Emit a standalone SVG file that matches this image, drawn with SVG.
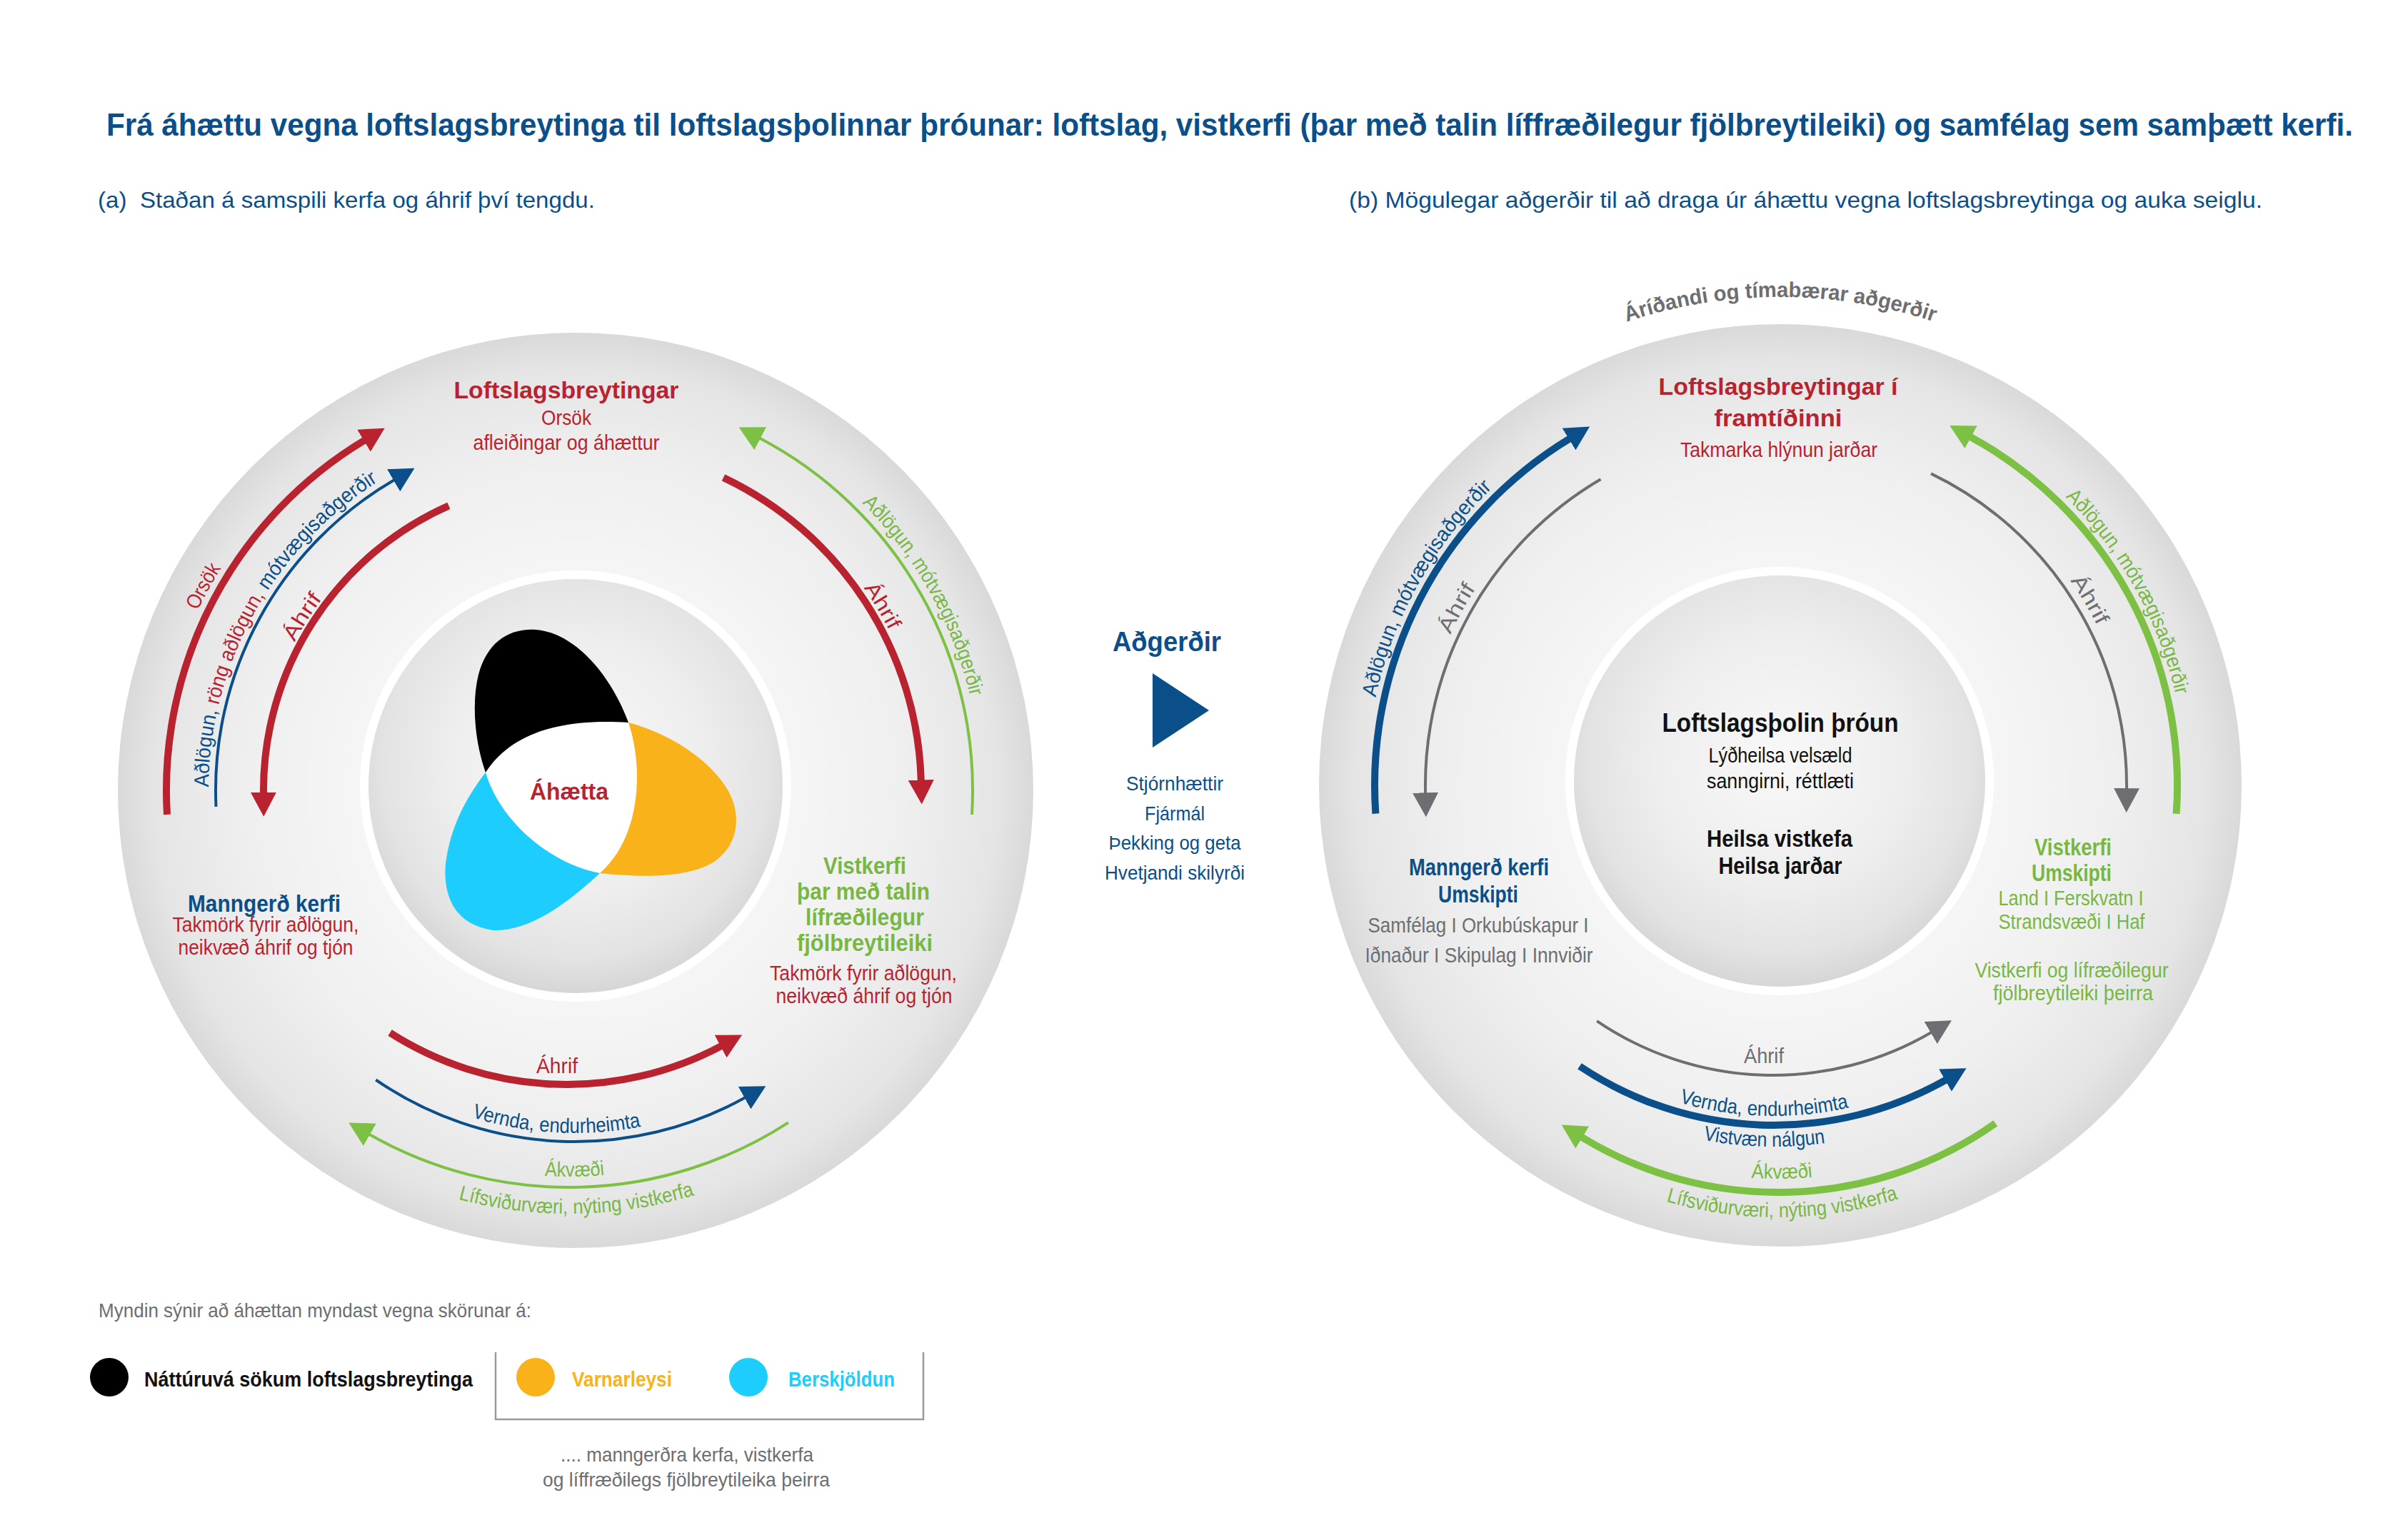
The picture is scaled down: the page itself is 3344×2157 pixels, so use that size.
<svg xmlns="http://www.w3.org/2000/svg" width="3344" height="2157" viewBox="0 0 3344 2157">
<style>
text{font-family:"Liberation Sans",Arial,sans-serif}
.b{font-weight:bold}
.c{text-anchor:middle}
.red{fill:#b8232f}
.blu{fill:#0b4f8a}
.grn{fill:#77b843}
.gry{fill:#6d6e71}
.blk{fill:#111111}
.org{fill:#f9b219}
.cyn{fill:#1ccdfd}
.h{font-size:33px}
.n{font-size:29px}
.arc{fill:none;stroke-linecap:butt}
.k{stroke-width:10}
.t{stroke-width:4}
.sr{stroke:#b8232f}
.sb{stroke:#0b4f8a}
.sg{stroke:#7cc143}
.sy{stroke:#6d6e71}
</style>
<defs>
<radialGradient id="gOuter" cx="50%" cy="50%" r="50%">
<stop offset="0" stop-color="#ffffff"/>
<stop offset="0.45" stop-color="#f6f6f6"/>
<stop offset="0.72" stop-color="#efefef"/>
<stop offset="0.92" stop-color="#e5e5e5"/>
<stop offset="1" stop-color="#d9d9d9"/>
</radialGradient>
<radialGradient id="gInner" cx="50%" cy="45%" r="55%">
<stop offset="0" stop-color="#f8f8f8"/>
<stop offset="0.55" stop-color="#eeeeee"/>
<stop offset="0.85" stop-color="#e3e3e3"/>
<stop offset="1" stop-color="#d6d6d6"/>
</radialGradient>
<marker id="ah-red" viewBox="0 -18 34 36" markerWidth="34" markerHeight="36" refX="1" refY="0" orient="auto" markerUnits="userSpaceOnUse"><path d="M0,-18 L34,0 L0,18 Z" fill="#b8232f"/></marker>
<marker id="ah-blu" viewBox="0 -18 34 36" markerWidth="34" markerHeight="36" refX="1" refY="0" orient="auto" markerUnits="userSpaceOnUse"><path d="M0,-18 L34,0 L0,18 Z" fill="#0b4f8a"/></marker>
<marker id="ah-grn" viewBox="0 -18 34 36" markerWidth="34" markerHeight="36" refX="1" refY="0" orient="auto" markerUnits="userSpaceOnUse"><path d="M0,-18 L34,0 L0,18 Z" fill="#7cc143"/></marker>
<marker id="ah-gry" viewBox="0 -18 34 36" markerWidth="34" markerHeight="36" refX="1" refY="0" orient="auto" markerUnits="userSpaceOnUse"><path d="M0,-18 L34,0 L0,18 Z" fill="#6d6e71"/></marker>
<path id="tp1" d="M231.1,1220.6 A585,585 0 0 1 593.5,561.6"/>
<path id="tp2" d="M301.4,1204.9 A513,513 0 0 1 621.2,628.1"/>
<path id="tp3" d="M364.8,1165.0 A444,444 0 0 1 671.5,683.5"/>
<path id="tp4" d="M965.8,639.9 A494,494 0 0 1 1292.9,1184.3"/>
<path id="tp5" d="M1007.1,575.1 A569,569 0 0 1 1363.9,1213.6"/>
<path id="tp6" d="M376.6,1323.4 A480,480 0 0 0 1206.6,1369.8"/>
<path id="tp7" d="M528.7,1578.1 A550,550 0 0 0 1078.6,1570.4"/>
<path id="tp8" d="M505.1,1624.5 A602,602 0 0 0 1107.1,1614.0"/>
<path id="up1" d="M2053.3,576.0 A684,684 0 0 1 2932.7,576.0"/>
<path id="up2" d="M1923.5,1209.7 A580,580 0 0 1 2286.1,558.2"/>
<path id="up3" d="M1994.8,1199.5 A508,508 0 0 1 2308.5,626.7"/>
<path id="up4" d="M2654.8,630.1 A497,497 0 0 1 2983.9,1177.7"/>
<path id="up5" d="M2695.6,569.4 A568,568 0 0 1 3050.8,1207.4"/>
<path id="up6" d="M2233.9,1492.0 A476,476 0 0 0 2709.7,1506.1"/>
<path id="up7" d="M2212.8,1529.5 A519,519 0 0 0 2731.6,1543.1"/>
<path id="up8" d="M2240.1,1585.4 A509,509 0 0 0 2749.1,1580.1"/>
<path id="up9" d="M2213.6,1632.5 A563,563 0 0 0 2776.6,1626.6"/>
</defs>

<rect x="0" y="0" width="3344" height="2157" fill="#ffffff"/>

<g id="title">
<text class="b blu" x="149" y="190" font-size="44" textLength="3146" lengthAdjust="spacingAndGlyphs">Frá áhættu vegna loftslagsbreytinga til loftslagsþolinnar þróunar: loftslag, vistkerfi (þar með talin líffræðilegur fjölbreytileiki) og samfélag sem samþætt kerfi.</text>
<text class="blu" x="137" y="291" font-size="32" textLength="696" lengthAdjust="spacingAndGlyphs">(a)&#160; Staðan á samspili kerfa og áhrif því tengdu.</text>
<text class="blu" x="1889" y="291" font-size="32" textLength="1279" lengthAdjust="spacingAndGlyphs">(b) Mögulegar aðgerðir til að draga úr áhættu vegna loftslagsbreytinga og auka seiglu.</text>
</g>

<!-- Panel (a) -->
<g id="panel-a-discs">
<circle cx="806" cy="1107" r="641" fill="url(#gOuter)"/>
<circle cx="806" cy="1101" r="302" fill="#ffffff"/>
<circle cx="806" cy="1101" r="290" fill="url(#gInner)"/>
</g>

<g id="node-ahaetta">
<path d="M680,1082 C665,1040 660,985 670,945 C682,900 712,880 750,882 C805,886 855,945 880,1012 L800,1110 Z" fill="#000000"/>
<path d="M880,1012 C940,1028 995,1065 1020,1108 C1040,1145 1032,1185 1000,1207 C960,1232 890,1228 840,1223 L800,1110 Z" fill="#f9b219"/>
<path d="M680,1082 C652,1118 630,1160 624,1210 C620,1260 640,1295 690,1303 C745,1305 800,1260 840,1223 L800,1110 Z" fill="#1ccdfd"/>
<path d="M680,1082 C710,1035 770,1005 880,1012 C900,1070 900,1170 840,1223 C770,1210 700,1150 680,1082 Z" fill="#ffffff"/>
<text class="b red c" x="797" y="1120" font-size="34" textLength="110" lengthAdjust="spacingAndGlyphs">Áhætta</text>
</g>

<g id="node-loftslag-a">
<text class="b red c h" x="793" y="558" textLength="315" lengthAdjust="spacingAndGlyphs">Loftslagsbreytingar</text>
<text class="red c n" x="793" y="595" textLength="70" lengthAdjust="spacingAndGlyphs">Orsök</text>
<text class="red c n" x="793" y="630" textLength="261" lengthAdjust="spacingAndGlyphs">afleiðingar og áhættur</text>
</g>

<g id="node-manngerd-a">
<text class="b blu c h" x="370" y="1277" textLength="214" lengthAdjust="spacingAndGlyphs">Manngerð kerfi</text>
<text class="red c n" x="372" y="1305" textLength="261" lengthAdjust="spacingAndGlyphs">Takmörk fyrir aðlögun,</text>
<text class="red c n" x="372" y="1337" textLength="245" lengthAdjust="spacingAndGlyphs">neikvæð áhrif og tjón</text>
</g>

<g id="node-vistkerfi-a">
<text class="b grn c h" x="1211" y="1224" textLength="116" lengthAdjust="spacingAndGlyphs">Vistkerfi</text>
<text class="b grn c h" x="1209" y="1260" textLength="186" lengthAdjust="spacingAndGlyphs">þar með talin</text>
<text class="b grn c h" x="1211" y="1296" textLength="166" lengthAdjust="spacingAndGlyphs">lífræðilegur</text>
<text class="b grn c h" x="1211" y="1332" textLength="190" lengthAdjust="spacingAndGlyphs">fjölbreytileiki</text>
<text class="red c n" x="1209" y="1373" textLength="262" lengthAdjust="spacingAndGlyphs">Takmörk fyrir aðlögun,</text>
<text class="red c n" x="1210" y="1405" textLength="247" lengthAdjust="spacingAndGlyphs">neikvæð áhrif og tjón</text>
</g>

<g id="connectors-a">
<path class="arc k sr" d="M234.0,1140.9 A572,572 0 0 1 510.4,616.7" marker-end="url(#ah-red)"/>
<path class="arc t sb" d="M302.5,1129.8 A503,503 0 0 1 552.0,672.3" marker-end="url(#ah-blu)"/>
<path class="arc k sr" d="M628.4,708.4 A436,436 0 0 0 369.0,1110.8" marker-end="url(#ah-red)"/>
<path class="arc k sr" d="M1013.0,668.9 A485,485 0 0 1 1289.8,1093.5" marker-end="url(#ah-red)"/>
<path class="arc t sg" d="M1361.0,1141.0 A557,557 0 0 0 1063.9,613.8" marker-end="url(#ah-grn)"/>
<path class="arc k sr" d="M546.1,1446.5 A460,460 0 0 0 1010.0,1465.1" marker-end="url(#ah-red)"/>
<path class="arc t sb" d="M526.3,1512.5 A492,492 0 0 0 1043.5,1537.3" marker-end="url(#ah-blu)"/>
<path class="arc t sg" d="M1103.9,1572.4 A565,565 0 0 1 517.0,1588.8" marker-end="url(#ah-grn)"/>
</g>

<g id="connector-labels-a">
<text class="red c n"><textPath href="#tp1" startOffset="50%" textLength="68" lengthAdjust="spacingAndGlyphs">Orsök</textPath></text>
<text class="blu c n"><textPath href="#tp2" startOffset="50%" textLength="510" lengthAdjust="spacingAndGlyphs">Aðlögun, <tspan class="red">röng aðlögun,</tspan> mótvægisaðgerðir</textPath></text>
<text class="red c n"><textPath href="#tp3" startOffset="50%" textLength="72" lengthAdjust="spacingAndGlyphs">Áhrif</textPath></text>
<text class="red c n"><textPath href="#tp4" startOffset="50%" textLength="70" lengthAdjust="spacingAndGlyphs">Áhrif</textPath></text>
<text class="grn c n"><textPath href="#tp5" startOffset="50%" textLength="314" lengthAdjust="spacingAndGlyphs">Aðlögun, mótvægisaðgerðir</textPath></text>
<text class="red c n" x="780" y="1503" textLength="58" lengthAdjust="spacingAndGlyphs">Áhrif</text>
<text class="blu c n"><textPath href="#tp6" startOffset="50%" textLength="240" lengthAdjust="spacingAndGlyphs">Vernda, endurheimta</textPath></text>
<text class="grn c n"><textPath href="#tp7" startOffset="50%" textLength="84" lengthAdjust="spacingAndGlyphs">Ákvæði</textPath></text>
<text class="grn c n"><textPath href="#tp8" startOffset="50%" textLength="335" lengthAdjust="spacingAndGlyphs">Lífsviðurværi, nýting vistkerfa</textPath></text>
</g>

<!-- Middle -->
<g id="node-adgerdir">
<text class="b blu c" x="1634" y="912" font-size="39" textLength="152" lengthAdjust="spacingAndGlyphs">Aðgerðir</text>
<polygon points="1614,943 1693,995 1614,1047" fill="#0b4f8a"/>
<text class="blu c" x="1645" y="1107" font-size="28" textLength="136" lengthAdjust="spacingAndGlyphs">Stjórnhættir</text>
<text class="blu c" x="1645" y="1149" font-size="28" textLength="84" lengthAdjust="spacingAndGlyphs">Fjármál</text>
<text class="blu c" x="1645" y="1190" font-size="28" textLength="185" lengthAdjust="spacingAndGlyphs">Þekking og geta</text>
<text class="blu c" x="1645" y="1232" font-size="28" textLength="196" lengthAdjust="spacingAndGlyphs">Hvetjandi skilyrði</text>
</g>

<!-- Panel (b) -->
<g id="panel-b-discs">
<circle cx="2493" cy="1100" r="646" fill="url(#gOuter)"/>
<circle cx="2492" cy="1094" r="300" fill="#ffffff"/>
<circle cx="2492" cy="1094" r="288" fill="url(#gInner)"/>
</g>

<g id="node-timing">
<text class="b gry c" font-size="30"><textPath href="#up1" startOffset="50%" textLength="438" lengthAdjust="spacingAndGlyphs">Áríðandi og tímabærar aðgerðir</textPath></text>
</g>

<g id="node-loftslag-b">
<text class="b red c h" x="2490" y="553" textLength="335" lengthAdjust="spacingAndGlyphs">Loftslagsbreytingar í</text>
<text class="b red c h" x="2490" y="597" textLength="179" lengthAdjust="spacingAndGlyphs">framtíðinni</text>
<text class="red c n" x="2491" y="640" textLength="276" lengthAdjust="spacingAndGlyphs">Takmarka hlýnun jarðar</text>
</g>

<g id="node-throun">
<text class="b blk c" x="2493" y="1025" font-size="36" textLength="331" lengthAdjust="spacingAndGlyphs">Loftslagsþolin þróun</text>
<text class="blk c n" x="2493" y="1068" textLength="201" lengthAdjust="spacingAndGlyphs">Lýðheilsa velsæld</text>
<text class="blk c n" x="2493" y="1104" textLength="206" lengthAdjust="spacingAndGlyphs">sanngirni, réttlæti</text>
<text class="b blk c h" x="2492" y="1186" textLength="204" lengthAdjust="spacingAndGlyphs">Heilsa vistkefa</text>
<text class="b blk c h" x="2493" y="1224" textLength="173" lengthAdjust="spacingAndGlyphs">Heilsa jarðar</text>
</g>

<g id="node-manngerd-b">
<text class="b blu c h" x="2071" y="1226" textLength="196" lengthAdjust="spacingAndGlyphs">Manngerð kerfi</text>
<text class="b blu c h" x="2070" y="1264" textLength="112" lengthAdjust="spacingAndGlyphs">Umskipti</text>
<text class="gry c n" x="2070" y="1306" textLength="309" lengthAdjust="spacingAndGlyphs">Samfélag I Orkubúskapur I</text>
<text class="gry c n" x="2071" y="1348" textLength="319" lengthAdjust="spacingAndGlyphs">Iðnaður I Skipulag I Innviðir</text>
</g>

<g id="node-vistkerfi-b">
<text class="b grn c h" x="2903" y="1198" textLength="108" lengthAdjust="spacingAndGlyphs">Vistkerfi</text>
<text class="b grn c h" x="2901" y="1234" textLength="112" lengthAdjust="spacingAndGlyphs">Umskipti</text>
<text class="grn c n" x="2900" y="1268" textLength="203" lengthAdjust="spacingAndGlyphs">Land I Ferskvatn I</text>
<text class="grn c n" x="2901" y="1301" textLength="205" lengthAdjust="spacingAndGlyphs">Strandsvæði I Haf</text>
<text class="grn c n" x="2901" y="1369" textLength="271" lengthAdjust="spacingAndGlyphs">Vistkerfi og lífræðilegur</text>
<text class="grn c n" x="2903" y="1401" textLength="224" lengthAdjust="spacingAndGlyphs">fjölbreytileiki þeirra</text>
</g>

<g id="connectors-b">
<path class="arc k sb" d="M1926.4,1139.6 A568,568 0 0 1 2197.9,614.6" marker-end="url(#ah-blu)"/>
<path class="arc t sy" d="M2241.5,671.3 A497,497 0 0 0 1996.1,1111.3" marker-end="url(#ah-gry)"/>
<path class="arc t sy" d="M2704.1,663.4 A485,485 0 0 1 2978.0,1105.1" marker-end="url(#ah-gry)"/>
<path class="arc k sg" d="M3047.6,1139.8 A556,556 0 0 0 2759.2,611.8" marker-end="url(#ah-grn)"/>
<path class="arc t sy" d="M2236.2,1430.1 A439,439 0 0 0 2704.5,1446.0" marker-end="url(#ah-gry)"/>
<path class="arc k sb" d="M2212.0,1493.4 A489,489 0 0 0 2724.8,1512.6" marker-end="url(#ah-blu)"/>
<path class="arc k sg" d="M2794.3,1573.4 A528,528 0 0 1 2214.9,1592.7" marker-end="url(#ah-grn)"/>
</g>

<g id="connector-labels-b">
<text class="blu c n"><textPath href="#up2" startOffset="50%" textLength="341" lengthAdjust="spacingAndGlyphs">Aðlögun, mótvægisaðgerðir</textPath></text>
<text class="gry c n"><textPath href="#up3" startOffset="50%" textLength="74" lengthAdjust="spacingAndGlyphs">Áhrif</textPath></text>
<text class="gry c n"><textPath href="#up4" startOffset="50%" textLength="74" lengthAdjust="spacingAndGlyphs">Áhrif</textPath></text>
<text class="grn c n"><textPath href="#up5" startOffset="50%" textLength="322" lengthAdjust="spacingAndGlyphs">Aðlögun, mótvægisaðgerðir</textPath></text>
<text class="gry c n" x="2470" y="1489" textLength="56" lengthAdjust="spacingAndGlyphs">Áhrif</text>
<text class="blu c n"><textPath href="#up6" startOffset="50%" textLength="240" lengthAdjust="spacingAndGlyphs">Vernda, endurheimta</textPath></text>
<text class="blu c n"><textPath href="#up7" startOffset="50%" textLength="172" lengthAdjust="spacingAndGlyphs">Vistvæn nálgun</textPath></text>
<text class="grn c n"><textPath href="#up8" startOffset="50%" textLength="86" lengthAdjust="spacingAndGlyphs">Ákvæði</textPath></text>
<text class="grn c n"><textPath href="#up9" startOffset="50%" textLength="330" lengthAdjust="spacingAndGlyphs">Lífsviðurværi, nýting vistkerfa</textPath></text>
</g>

<!-- Legend -->
<g id="legend">
<text class="gry" x="138" y="1845" font-size="28" textLength="606" lengthAdjust="spacingAndGlyphs">Myndin sýnir að áhættan myndast vegna skörunar á:</text>
<circle cx="153" cy="1929" r="27" fill="#000000"/>
<text class="b blk" x="202" y="1942" font-size="29" textLength="460" lengthAdjust="spacingAndGlyphs">Náttúruvá sökum loftslagsbreytinga</text>
<path d="M694,1894 V1988 H1293 V1894" fill="none" stroke="#9a9a9a" stroke-width="2.5"/>
<circle cx="750" cy="1929" r="27" fill="#f9b219"/>
<text class="b org" x="801" y="1942" font-size="29" textLength="140" lengthAdjust="spacingAndGlyphs">Varnarleysi</text>
<circle cx="1048" cy="1929" r="27" fill="#1ccdfd"/>
<text class="b cyn" x="1104" y="1942" font-size="29" textLength="149" lengthAdjust="spacingAndGlyphs">Berskjöldun</text>
<text class="gry c" x="962" y="2047" font-size="28" textLength="354" lengthAdjust="spacingAndGlyphs">.... manngerðra kerfa, vistkerfa</text>
<text class="gry c" x="961" y="2082" font-size="28" textLength="402" lengthAdjust="spacingAndGlyphs">og líffræðilegs fjölbreytileika þeirra</text>
</g>
</svg>
